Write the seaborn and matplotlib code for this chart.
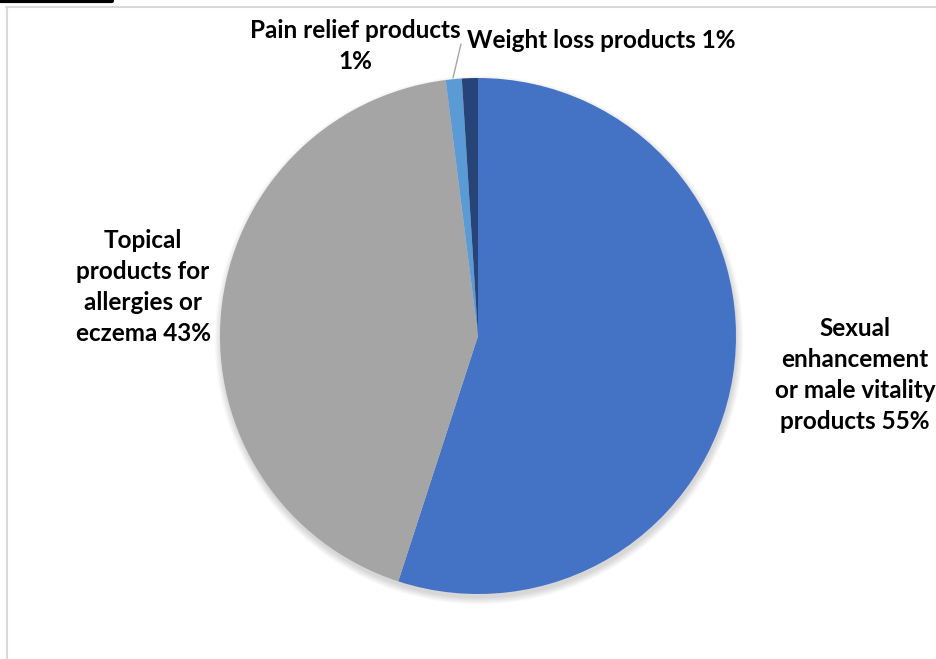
import numpy as np
import seaborn as sns
import matplotlib.pyplot as plt
from matplotlib.patches import Circle

sns.set_theme(style="white")
plt.rcParams['font.family'] = ['Lato', 'DejaVu Sans']

categories = ['Sexual\nenhancement\nor male vitality\nproducts',
              'Topical\nproducts for\nallergies or\neczema',
              'Pain relief products\n',
              'Weight loss products']
shares = [55, 43, 1, 1]
colors = ['#4472C4', '#A5A5A5', '#5B9BD5', '#264478']

fig = plt.figure(figsize=(9.36, 6.59), dpi=100)
ax = fig.add_axes([0, 0, 1, 1])

cx, cy, r = 478, 659 - 336, 258

# soft shadow under the pie
for i in range(8):
    ax.add_patch(Circle((cx + 1, cy - 4), r + i * 0.9, color='black',
                        alpha=0.018, lw=0, zorder=0))

ax.pie(shares, colors=colors, startangle=90, counterclock=False,
       center=(cx, cy), radius=r, frame=True,
       wedgeprops=dict(linewidth=0, zorder=2))
ax.set_xlim(0, 936)
ax.set_ylim(0, 659)
ax.set_aspect('equal')
ax.axis('off')

tk = dict(fontsize=17.5, fontweight='bold', color='black', linespacing=1.42)
ax.text(855, 659 - 375, f"{categories[0]} {shares[0]}%", ha='center', va='center', **tk)
ax.text(143, 659 - 287, f"{categories[1]} {shares[1]}%", ha='center', va='center', **tk)
ax.text(355, 659 - 46, f"{categories[2]}{shares[2]}%", ha='center', va='center', **tk)
ax.text(467, 659 - 40, f"{categories[3]} {shares[3]}%", ha='left', va='center', **tk)

# leader line for pain relief label
ax.plot([461, 453], [659 - 44, 659 - 78], color='#A6A6A6', lw=1, zorder=3)

# frame lines
ax.plot([0, 112], [658, 658], color='black', lw=3, clip_on=False)
ax.plot([6, 936], [652, 652], color='#D9D9D9', lw=1.5)
ax.plot([7, 7], [0, 652], color='#D9D9D9', lw=1.5)

fig.savefig('out.png', dpi=100)
